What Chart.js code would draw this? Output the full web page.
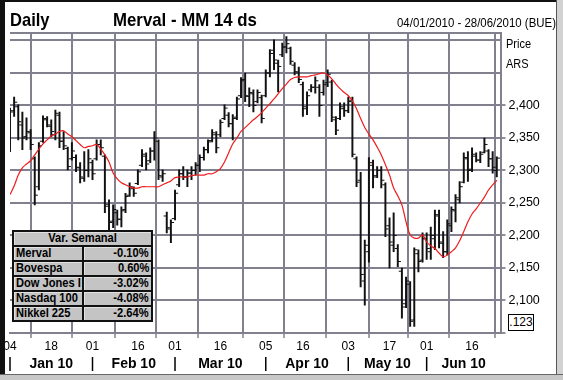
<!DOCTYPE html>
<html><head><meta charset="utf-8">
<script src="https://cdn.jsdelivr.net/npm/chart.js@4.4.1/dist/chart.umd.min.js"></script>
<style>
html,body{margin:0;padding:0;background:#fff;}
#wrap{position:relative;width:563px;height:380px;overflow:hidden;background:#fff;font-family:"Liberation Sans",Arial,sans-serif;color:#000;}
#c{position:absolute;left:0;top:0;}
.t{position:absolute;white-space:nowrap;line-height:1;transform-origin:0 0;}
.fr{position:absolute;}
#tbl{position:absolute;left:12px;top:230px;border-collapse:collapse;background:#c4c4c4;font-size:12.5px;font-weight:bold;}
#tbl td{border:2px solid #111;padding:0 2px;height:13px;line-height:13px;overflow:hidden;white-space:nowrap;box-shadow:inset 1px 1px 0 #e2e2e2;}
#tbl td.h{text-align:center;}
#tbl td.n{width:64px;max-width:64px;}
#tbl td.v{width:63px;text-align:right;}
#tbl span{display:inline-block;transform:scaleX(0.89);}
#tbl td.n span{transform-origin:0 50%;}
#tbl td.v span{transform-origin:100% 50%;}
#tbl td.h span{transform-origin:50% 50%;}
#box{position:absolute;left:508px;top:314px;width:24px;height:15px;border:1px solid #000;font-size:12px;line-height:15px;text-align:center;background:#fff;}
</style></head>
<body>
<div id="wrap">
<canvas id="c" width="563" height="380"></canvas>
<div class="fr" style="left:0;top:0;width:563px;height:2px;background:#111"></div>
<div class="fr" style="left:0;top:0;width:5px;height:380px;background:#111"></div>
<div class="fr" style="left:556px;top:0;width:1px;height:380px;background:#555"></div>
<div class="fr" style="left:557px;top:0;width:6px;height:380px;background:#d2d2d2"></div>
<div class="fr" style="left:0;top:374px;width:563px;height:1px;background:#666"></div>
<div class="fr" style="left:0;top:375px;width:563px;height:5px;background:#c8c8c8"></div>
<div class="t" id="tDaily" style="left:10px;top:10px;font-size:19px;font-weight:bold;transform:scaleX(0.87)"></div>
<div class="t" id="tMain" style="left:113px;top:10px;font-size:19px;font-weight:bold;transform:scaleX(0.885)"></div>
<div class="t" id="tRange" style="left:397px;top:16px;font-size:13px;transform:scaleX(0.88)"></div>
<div class="t" id="tPrice" style="left:506px;top:38px;font-size:12.5px;transform:scaleX(0.88)"></div>
<div class="t" id="tCur" style="left:506px;top:58px;font-size:12.5px;transform:scaleX(0.88)"></div>
<table id="tbl"></table>
<div id="box"></div>
</div>
<script>
// ---- texts ----
const titleLeft = 'Daily';
const titleMain = 'Merval - MM 14 ds';
const titleRange = '04/01/2010 - 28/06/2010 (BUE)';
const axisTitle = ['Price', 'ARS'];
const lastBoxLabel = '.123';
const tableTitle = 'Var. Semanal';
const tableNames = ['Merval', 'Bovespa', 'Dow Jones I', 'Nasdaq 100', 'Nikkel 225'];
const tableValues = ['-0.10%', '0.60%', '-3.02%', '-4.08%', '-2.64%'];

// ---- categories (trading days) ----
const dates = [
'04/01','05/01','06/01','07/01','08/01','11/01','12/01','13/01','14/01','15/01',
'18/01','19/01','20/01','21/01','22/01','25/01','26/01','27/01','28/01','29/01',
'01/02','02/02','03/02','04/02','05/02','08/02','09/02','10/02','11/02','12/02',
'15/02','16/02','17/02','18/02','19/02','22/02','23/02','24/02','25/02','26/02',
'01/03','02/03','03/03','04/03','05/03','08/03','09/03','10/03','11/03','12/03',
'15/03','16/03','17/03','18/03','19/03','22/03','23/03','25/03','26/03','29/03',
'30/03','31/03','05/04','06/04','07/04','08/04','09/04','12/04','13/04','14/04',
'15/04','16/04','19/04','20/04','21/04','22/04','23/04','26/04','27/04','28/04',
'29/04','30/04','03/05','04/05','05/05','06/05','07/05','10/05','11/05','12/05',
'13/05','14/05','17/05','18/05','19/05','20/05','21/05','26/05','27/05','28/05',
'31/05','01/06','02/06','03/06','04/06','07/06','08/06','09/06','10/06','11/06',
'14/06','15/06','16/06','17/06','18/06','22/06','23/06','24/06','25/06'];

// ---- OHLC (ARS) ----
const highs = [
2396,2413,2401,2390,2381,2363,2321,2343,2384,2383,
2378,2393,2390,2360,2336,2343,2324,2312,2329,2332,
2316,2347,2347,2324,2255,2247,2239,2244,2265,2281,
2275,2301,2332,2327,2335,2360,2347,2301,2236,2224,
2270,2301,2306,2301,2306,2312,2324,2336,2347,2363,
2360,2378,2401,2389,2386,2413,2443,2450,2427,2424,
2424,2416,2455,2486,2501,2470,2496,2506,2490,2466,
2459,2436,2421,2432,2444,2432,2439,2455,2439,2383,
2404,2404,2413,2413,2321,2297,2193,2320,2316,2306,
2306,2281,2227,2235,2186,2150,2136,2129,2181,2178,
2204,2204,2213,2239,2239,2206,2224,2244,2263,2283,
2327,2329,2335,2327,2329,2350,2332,2329,2321];
const lows = [
2329,2383,2347,2332,2347,2332,2247,2270,2343,2367,
2352,2347,2335,2332,2301,2316,2298,2281,2283,2290,
2286,2316,2324,2235,2209,2212,2216,2213,2235,2260,
2260,2278,2306,2301,2312,2316,2286,2283,2204,2189,
2224,2275,2286,2275,2286,2293,2298,2316,2327,2344,
2327,2352,2378,2367,2347,2378,2412,2406,2398,2390,
2404,2373,2413,2444,2455,2421,2475,2481,2463,2447,
2435,2383,2386,2421,2419,2383,2416,2429,2375,2355,
2378,2383,2389,2321,2275,2121,2093,2159,2273,2289,
2273,2198,2150,2175,2152,2073,2089,2060,2060,2144,
2159,2163,2163,2178,2181,2166,2170,2206,2221,2250,
2281,2283,2298,2313,2312,2327,2306,2296,2290];
const opens = [
2335,2392,2398,2370,2352,2358,2318,2275,2345,2378,
2368,2355,2385,2345,2334,2318,2320,2304,2288,2300,
2312,2318,2340,2322,2248,2222,2235,2225,2240,2262,
2272,2280,2308,2322,2315,2330,2345,2290,2230,2210,
2226,2278,2295,2290,2296,2300,2308,2320,2332,2346,
2355,2355,2380,2385,2372,2382,2415,2440,2414,2418,
2406,2412,2415,2450,2485,2465,2478,2490,2488,2462,
2450,2432,2398,2424,2428,2428,2420,2435,2436,2378,
2380,2395,2392,2408,2318,2285,2130,2175,2308,2292,
2300,2278,2215,2185,2180,2145,2095,2125,2070,2172,
2162,2195,2175,2195,2230,2188,2175,2215,2238,2255,
2282,2318,2302,2322,2316,2328,2330,2318,2300];
const closes = [
2390,2405,2375,2350,2360,2340,2262,2338,2380,2370,
2360,2388,2345,2338,2306,2330,2305,2290,2300,2318,
2295,2340,2335,2245,2220,2240,2225,2238,2260,2275,
2265,2298,2325,2310,2330,2350,2292,2295,2212,2220,
2265,2295,2290,2296,2300,2308,2320,2332,2344,2358,
2335,2374,2396,2372,2380,2410,2438,2415,2420,2400,
2420,2380,2450,2480,2470,2460,2490,2495,2468,2452,
2440,2395,2415,2428,2438,2400,2432,2448,2382,2362,
2398,2392,2406,2325,2282,2140,2185,2312,2290,2300,
2285,2210,2190,2200,2160,2090,2130,2068,2178,2160,
2195,2180,2200,2232,2190,2175,2218,2240,2258,2275,
2320,2300,2325,2316,2325,2340,2318,2305,2319];

// ---- 14-day moving average ----
const ma14 = [
2263,2276,2293,2304,2310,2315,2324,2333,2341,2347,
2353,2356,2360,2361,2356,2352,2346,2340,2335,2337,
2338,2340,2333,2324,2313,2296,2287,2281,2278,2275,
2273,2273,2275,2275,2275,2275,2275,2278,2281,2284,
2289,2290,2290,2290,2292,2293,2293,2293,2295,2295,
2298,2303,2313,2327,2341,2350,2360,2366,2372,2378,
2383,2389,2396,2403,2410,2418,2426,2433,2440,2443,
2444,2444,2444,2446,2447,2449,2450,2447,2441,2433,
2426,2420,2415,2407,2395,2380,2366,2356,2347,2336,
2324,2309,2293,2273,2261,2247,2221,2201,2196,2196,
2201,2190,2184,2180,2173,2167,2170,2175,2181,2192,
2206,2221,2233,2241,2250,2259,2270,2278,2285];

// ---- axes ----
const dayTickDates  = ['04/01','18/01','01/02','16/02','01/03','16/03','05/04','16/04','03/05','17/05','01/06','16/06'];
const dayTickLabels = ['04','18','01','16','01','16','05','16','03','17','01','16'];
const monthStarts = ['04/01','01/02','01/03','05/04','03/05','01/06'];
const monthLabels = ['Jan 10','Feb 10','Mar 10','Apr 10','May 10','Jun 10'];
const priceGrid = [2050,2100,2150,2200,2250,2300,2350,2400,2450,2500];
const priceLabels = ['','2,100','2,150','2,200','2,250','2,300','2,350','2,400','',''];
const priceMin = 2050, priceMax = 2511.5;

// ---- html texts ----
document.getElementById('tDaily').textContent = titleLeft;
document.getElementById('tMain').textContent = titleMain;
document.getElementById('tRange').textContent = titleRange;
document.getElementById('tPrice').textContent = axisTitle[0];
document.getElementById('tCur').textContent = axisTitle[1];
document.getElementById('box').textContent = lastBoxLabel;
const tbl = document.getElementById('tbl');
let html = '<tr><td class="h" colspan="2"><span>' + tableTitle + '</span></td></tr>';
tableNames.forEach((n, i) => { html += '<tr><td class="n"><span>' + n + '</span></td><td class="v"><span>' + tableValues[i] + '</span></td></tr>'; });
tbl.innerHTML = html;

// ---- chart ----
const GRID = '#80808f';
const n = dates.length;
const last = n - 1;
const idx = d => dates.indexOf(d);

const monthRow = {
  id: 'monthRow',
  afterDraw(chart) {
    const xs = chart.scales.x, ctx = chart.ctx;
    const yMid = chart.chartArea.bottom + 31;
    ctx.save();
    ctx.fillStyle = '#000'; ctx.strokeStyle = '#000'; ctx.lineWidth = 1.5;
    ctx.font = 'bold 14px "Liberation Sans", Arial, sans-serif';
    ctx.textAlign = 'center'; ctx.textBaseline = 'middle';
    monthStarts.forEach((d, k) => {
      const p0 = xs.getPixelForValue(idx(d));
      const p1 = k + 1 < monthStarts.length ? xs.getPixelForValue(idx(monthStarts[k + 1])) : xs.getPixelForValue(xs.max);
      ctx.beginPath(); ctx.moveTo(p0, yMid - 7); ctx.lineTo(p0, yMid + 7); ctx.stroke();
      ctx.fillText(monthLabels[k], (p0 + p1) / 2, yMid + 0.5);
    });
    ctx.restore();
  }
};

new Chart(document.getElementById('c'), {
  type: 'bar',
  data: {
    datasets: [
      { type: 'line', label: 'MA14', data: ma14.map((v, i) => ({ x: i, y: v })),
        borderColor: '#ee1c1c', borderWidth: 1.2, pointRadius: 0, tension: 0.35, order: 1 },
      { type: 'bar', label: 'HL', data: highs.map((h, i) => ({ x: i, y: [lows[i], h] })),
        backgroundColor: '#111', borderWidth: 0, barThickness: 1.3, grouped: false, order: 2 },
      { type: 'scatter', label: 'Open', data: opens.map((v, i) => ({ x: i - 0.4, y: v })),
        pointStyle: 'line', pointRadius: 1.5, borderColor: '#111', borderWidth: 1, order: 3 },
      { type: 'scatter', label: 'Close', data: closes.map((v, i) => ({ x: i + 0.4, y: v })),
        pointStyle: 'line', pointRadius: 1.5, borderColor: '#111', borderWidth: 1, order: 3 },
      { type: 'scatter', label: 'LastClose', data: [{ x: 120.4, y: closes[last] }], clip: false,
        pointStyle: 'rectRot', pointRadius: 4.5, backgroundColor: '#000', borderColor: '#000', borderWidth: 0, order: 0 },
      { type: 'scatter', label: 'LastMA', data: [{ x: 120.4, y: ma14[last] }], clip: false,
        pointStyle: 'rectRot', pointRadius: 4.5, backgroundColor: '#ff0000', borderColor: '#ff0000', borderWidth: 0, order: 0 }
    ]
  },
  options: {
    responsive: false, animation: false, devicePixelRatio: 1,
    layout: { padding: { left: 10, top: 33, right: 0, bottom: 0 } },
    plugins: { legend: { display: false }, tooltip: { enabled: false }, title: { display: false } },
    scales: {
      x: {
        type: 'linear', min: 0, max: 118.9, offset: false,
        afterFit: s => { s.height = 47; },
        afterBuildTicks: s => { s.ticks = dayTickDates.map(d => ({ value: idx(d) })); },
        grid: { color: GRID, lineWidth: 2, drawTicks: true, tickLength: 5, tickColor: '#444', tickWidth: 1 },
        border: { display: true, color: GRID, width: 2 },
        ticks: { autoSkip: false, maxRotation: 0, padding: 1, color: '#000',
          font: { family: '"Liberation Sans", Arial, sans-serif', size: 12 },
          callback: v => { const k = dayTickDates.indexOf(dates[Math.round(v)]); return k >= 0 ? dayTickLabels[k] : ''; } }
      },
      y: {
        type: 'linear', position: 'right', min: priceMin, max: priceMax,
        afterFit: s => { s.width = 62.5; },
        afterBuildTicks: s => { s.ticks = priceGrid.concat([priceMax]).map(v => ({ value: v })); },
        grid: { color: GRID, lineWidth: 2, drawTicks: true, tickLength: 5, tickWidth: 1,
          tickColor: c => (c.tick && priceLabels[priceGrid.indexOf(c.tick.value)] ) || (c.tick && c.tick.value === priceMin) ? '#222' : 'rgba(0,0,0,0)' },
        border: { display: true, color: GRID, width: 2 },
        ticks: { padding: 3, color: '#000', font: { family: '"Liberation Sans", Arial, sans-serif', size: 12.5 },
          callback: v => { const k = priceGrid.indexOf(v); return k >= 0 ? priceLabels[k] : ''; } }
      }
    }
  },
  plugins: [monthRow]
});
</script>
</body></html>
